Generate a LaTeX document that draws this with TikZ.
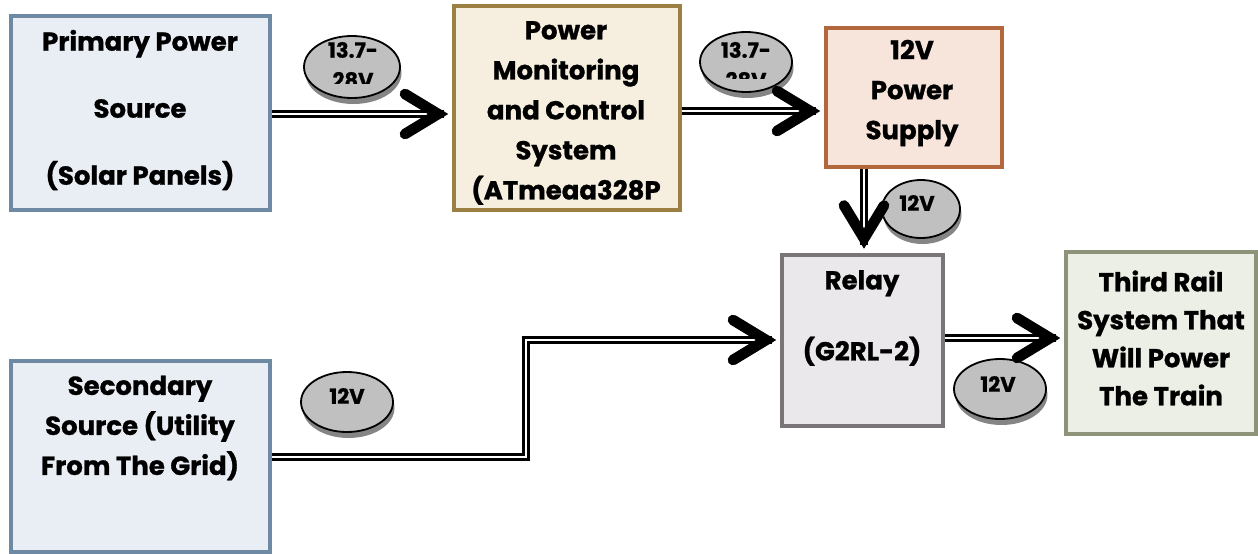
\documentclass[tikz,border=0pt]{standalone}
\usepackage{fontspec}
\setmainfont{Poppins}[BoldFeatures={FakeBold=1}]
\usetikzlibrary{shapes.geometric,shadows}
\definecolor{bluebd}{HTML}{6E89A4}
\definecolor{bluefill}{HTML}{E9EEF5}
\definecolor{goldbd}{HTML}{9C7F42}
\definecolor{goldfill}{HTML}{F6EFE0}
\definecolor{rustbd}{HTML}{B2683C}
\definecolor{rustfill}{HTML}{F7E5DB}
\definecolor{graybd}{HTML}{7A7578}
\definecolor{grayfill}{HTML}{EAE8EA}
\definecolor{olivebd}{HTML}{8C9379}
\definecolor{olivefill}{HTML}{ECEFE5}
\definecolor{shade}{HTML}{858585}
\definecolor{ellfill}{HTML}{C0C0C0}
\tikzset{
  box/.style={draw, line width=4pt, rectangle, inner sep=0pt},
  boxtext/.style={align=center, font=\bfseries\fontsize{26}{40}\selectfont, inner sep=0pt},
  vell/.style={draw, ellipse, line width=1.8pt, fill=ellfill, inner sep=0pt,
     drop shadow={shadow xshift=1.5pt, shadow yshift=-6pt, fill=shade, opacity=1}},
  vtext/.style={align=center, font=\bfseries\fontsize{21}{30}\selectfont, inner sep=0pt},
  pipe/.style={line width=3pt, double=white, double distance=2.2pt, line join=miter},
  pipeshadow/.style={pipe, draw=shade},
  chev/.style={line width=10.5pt, line cap=round, line join=miter},
  chevshadow/.style={chev, draw=shade},
}
\begin{document}
\begin{tikzpicture}[x=1pt,y=-1pt]
\useasboundingbox (0,0) rectangle (1258,554);

% boxes
\node[box, draw=bluebd, fill=bluefill, minimum width=259pt, minimum height=194pt] (prim) at (140.5,113) {};
\node[box, draw=goldbd, fill=goldfill, minimum width=226pt, minimum height=204pt] (pmc) at (567,107.5) {};
\node[box, draw=rustbd, fill=rustfill, minimum width=176pt, minimum height=139pt] (ps) at (914,97) {};
\node[box, draw=graybd, fill=grayfill, minimum width=161pt, minimum height=171pt] (relay) at (862.5,340) {};
\node[box, draw=olivebd, fill=olivefill, minimum width=190pt, minimum height=182pt] (third) at (1161,342.5) {};
\node[box, draw=bluebd, fill=bluefill, minimum width=259pt, minimum height=191pt] (sec) at (140.5,456.5) {};

% box texts
\node[boxtext, font=\bfseries\fontsize{26}{67}\selectfont] (primT) at (140,110) {Primary Power\\Source\\(Solar Panels)};
\node[boxtext] (pmcT) at (566,113) {Power\\Monitoring\\and Control\\System\\(ATmeaa328P};
\node[boxtext] (psT) at (912,93) {12V\\Power\\Supply};
\node[boxtext, font=\bfseries\fontsize{26}{71}\selectfont] (relayT) at (862,318) {Relay\\(G2RL-2)};
\node[boxtext, font=\bfseries\fontsize{26}{38}\selectfont] (thirdT) at (1161,338) {Third Rail\\System That\\Will Power\\The Train};
\node[boxtext] (secT) at (140,428) {Secondary\\Source (Utility\\From The Grid)};

% voltage ellipses
\node[vell, minimum width=96pt, minimum height=62pt] (e1) at (352,67) {};
\begin{scope}
  \clip (300,30) rectangle (420,83);
  \node[vtext] (e1T) at (353,65) {13.7-\\28V};
\end{scope}
\node[vell, minimum width=92pt, minimum height=60pt] (e2) at (746,62) {};
\begin{scope}
  \clip (690,25) rectangle (800,78);
  \node[vtext] (e2T) at (746,65) {13.7-\\28V};
\end{scope}
\node[vell, minimum width=78pt, minimum height=58pt] (e3) at (921,209) {};
\node[vtext] (e3T) at (917,203) {12V};
\node[vell, minimum width=92pt, minimum height=60pt] (e4) at (1000,389) {};
\node[vtext] (e4T) at (998,384) {12V};
\node[vell, minimum width=92pt, minimum height=60pt] (e5) at (347,402) {};
\node[vtext] (e5T) at (347,396) {12V};

% connector coordinates
\coordinate (a1s) at ([yshift=-1pt]prim.east);
\coordinate (a1t) at (pmc.west |- a1s);
\coordinate (a2s) at (pmc.east |- 0,111);
\coordinate (a2t) at (ps.west |- a2s);
\coordinate (a3s) at (ps.south -| 864,0);
\coordinate (a3t) at (relay.north -| a3s);
\coordinate (a4s) at (sec.east |- 0,457);
\coordinate (a4m) at (526,0);
\coordinate (a4t) at (relay.west |- 0,340);
\coordinate (a5s) at (relay.east |- 0,338);
\coordinate (a5t) at (third.west |- a5s);

% shadows of connectors
\begin{scope}[shift={(1,8)}]
  \draw[pipeshadow] (a1s) -- ([xshift=-8pt]a1t);
  \draw[chevshadow] ([shift={(-47,-20)}]a1t) -- ([xshift=-14pt]a1t) -- ([shift={(-47,20)}]a1t);
  \draw[pipeshadow] (a2s) -- ([xshift=-8pt]a2t);
  \draw[chevshadow] ([shift={(-47,-20)}]a2t) -- ([xshift=-14pt]a2t) -- ([shift={(-47,20)}]a2t);
  \draw[pipeshadow] (a3s) -- ([yshift=8pt]a3t);
  \draw[chevshadow] ([shift={(-20,-47)}]a3t) -- ([yshift=14pt]a3t) -- ([shift={(20,-47)}]a3t);
  \draw[pipeshadow] (a4s) -| (a4m |- a4t) -- ([xshift=-8pt]a4t);
  \draw[chevshadow] ([shift={(-47,-20)}]a4t) -- ([xshift=-14pt]a4t) -- ([shift={(-47,20)}]a4t);
  \draw[pipeshadow] (a5s) -- ([xshift=-8pt]a5t);
  \draw[chevshadow] ([shift={(-47,-20)}]a5t) -- ([xshift=-14pt]a5t) -- ([shift={(-47,20)}]a5t);
\end{scope}

% connectors
\draw[pipe] (a1s) -- ([xshift=-8pt]a1t);
\draw[chev] ([shift={(-47,-20)}]a1t) -- ([xshift=-14pt]a1t) -- ([shift={(-47,20)}]a1t);
\draw[pipe] (a2s) -- ([xshift=-8pt]a2t);
\draw[chev] ([shift={(-47,-20)}]a2t) -- ([xshift=-14pt]a2t) -- ([shift={(-47,20)}]a2t);
\draw[pipe] (a3s) -- ([yshift=8pt]a3t);
\draw[chev] ([shift={(-20,-47)}]a3t) -- ([yshift=14pt]a3t) -- ([shift={(20,-47)}]a3t);
\draw[pipe] (a4s) -| (a4m |- a4t) -- ([xshift=-8pt]a4t);
\draw[chev] ([shift={(-47,-20)}]a4t) -- ([xshift=-14pt]a4t) -- ([shift={(-47,20)}]a4t);
\draw[pipe] (a5s) -- ([xshift=-8pt]a5t);
\draw[chev] ([shift={(-47,-20)}]a5t) -- ([xshift=-14pt]a5t) -- ([shift={(-47,20)}]a5t);
\end{tikzpicture}
\end{document}
